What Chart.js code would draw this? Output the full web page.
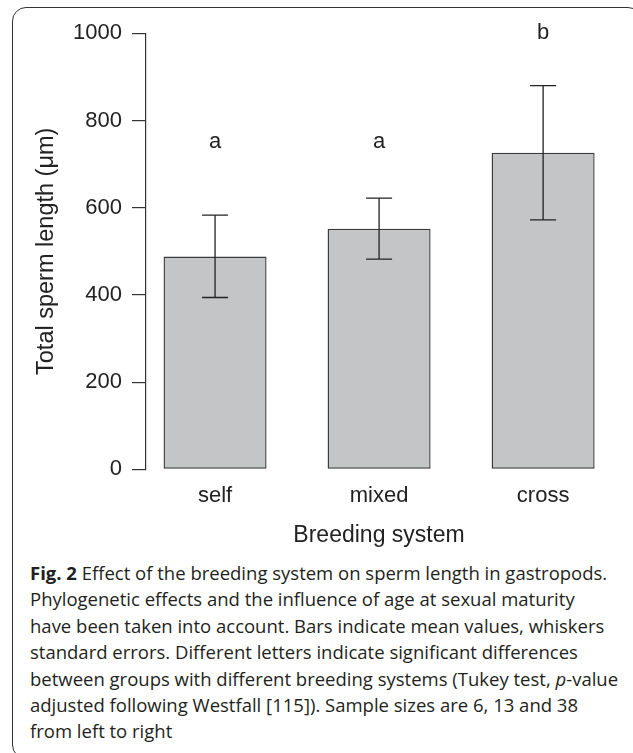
<!DOCTYPE html>
<html><head><meta charset="utf-8">
<script src="https://cdn.jsdelivr.net/npm/chart.js@4"></script>
<style>
html,body{margin:0;padding:0;background:#fff;width:633px;height:753px;overflow:hidden;}
#frame{position:absolute;left:12px;top:7px;width:630px;height:752px;box-sizing:border-box;border:1.6px solid #333;border-radius:14px;}
#wrap{position:absolute;left:0;top:0;width:633px;height:560px;}
#caption{position:absolute;left:30px;top:560px;font-family:"Open Sans";font-size:18.5px;line-height:26.4px;color:#231f20;white-space:nowrap;}
#caption b{font-weight:700;}
</style></head><body>
<div id="frame"></div>
<div id="wrap"><canvas id="c"></canvas></div>
<div id="caption">
<div><b>Fig. 2</b> Effect of the breeding system on sperm length in gastropods.</div>
<div>Phylogenetic effects and the influence of age at sexual maturity</div>
<div>have been taken into account. Bars indicate mean values, whiskers</div>
<div>standard errors. Different letters indicate significant differences</div>
<div>between groups with different breeding systems (Tukey test, <i>p</i>-value</div>
<div>adjusted following Westfall [115]). Sample sizes are 6, 13 and 38</div>
<div>from left to right</div>
</div>
<script>
const categories = ['self', 'mixed', 'cross'];
const meanLength = [488, 552, 726];
const seLower = [394, 482, 572];
const seUpper = [583, 622, 880];
const sigLetters = ['a', 'a', 'b'];
const letterLevels = [750, 750, 1000];
const yTicks = [0, 200, 400, 600, 800, 1000];

const FONT = '"Liberation Sans", Arial, sans-serif';
const INK = '#222';

const overlay = {
  id: 'overlay',
  afterDatasetsDraw(chart) {
    const {ctx, scales: {x, y}} = chart;
    ctx.save();
    ctx.strokeStyle = INK;
    ctx.lineWidth = 1.3;
    ctx.fillStyle = INK;
    ctx.font = '22px ' + FONT;
    ctx.textAlign = 'center';
    ctx.textBaseline = 'middle';
    categories.forEach((c, i) => {
      const px = x.getPixelForValue(i + 1);
      const yl = y.getPixelForValue(seLower[i]);
      const yh = y.getPixelForValue(seUpper[i]);
      ctx.beginPath();
      ctx.moveTo(px, yl); ctx.lineTo(px, yh);
      ctx.moveTo(px - 13, yl); ctx.lineTo(px + 13, yl);
      ctx.moveTo(px - 13, yh); ctx.lineTo(px + 13, yh);
      ctx.stroke();
      ctx.fillText(sigLetters[i], px, y.getPixelForValue(letterLevels[i]));
    });
    ctx.restore();
  }
};

new Chart(document.getElementById('c'), {
  type: 'bar',
  data: {
    datasets: [{
      data: categories.map((c, i) => ({x: i + 1, y: meanLength[i]})),
      backgroundColor: '#c4c5c7',
      borderColor: '#3a3a3a',
      borderWidth: 1.4,
      borderSkipped: false,
      barPercentage: 0.628,
      categoryPercentage: 1
    }]
  },
  options: {
    responsive: true,
    maintainAspectRatio: false,
    animation: false,
    devicePixelRatio: 1,
    layout: {padding: {top: 33.3, right: 21, left: 0, bottom: 0}},
    plugins: {legend: {display: false}, tooltip: {enabled: false}},
    scales: {
      x: {
        type: 'linear',
        offset: false,
        min: 0.579,
        max: 3.42,
        afterBuildTicks: s => { s.ticks = categories.map((c, i) => ({value: i + 1})); },
        afterFit: s => { s.height = 90.7; },
        grid: {display: false, drawTicks: false, offset: false},
        border: {display: false},
        ticks: {
          autoSkip: false, maxRotation: 0, padding: 13,
          color: INK, font: {family: FONT, size: 22},
          callback: v => categories[v - 1]
        },
        title: {display: true, text: 'Breeding system', color: INK,
          font: {family: FONT, size: 23}, padding: {top: 0, bottom: 11}}
      },
      y: {
        min: 0, max: 1000,
        afterBuildTicks: s => { s.ticks = yTicks.map(v => ({value: v})); },
        afterFit: s => { s.width = 146; },
        grid: {drawOnChartArea: false, drawTicks: true, tickLength: 14, color: '#333', lineWidth: 1.2},
        border: {display: true, color: '#333', width: 1.2},
        ticks: {padding: 10, color: INK, font: {family: FONT, size: 22}, callback: v => String(v)},
        title: {display: true, text: 'Total sperm length (\u03bcm)', color: INK,
          font: {family: FONT, size: 23.5}, padding: {top: 32, bottom: 0}}
      }
    }
  },
  plugins: [overlay]
});
</script>
</body></html>
